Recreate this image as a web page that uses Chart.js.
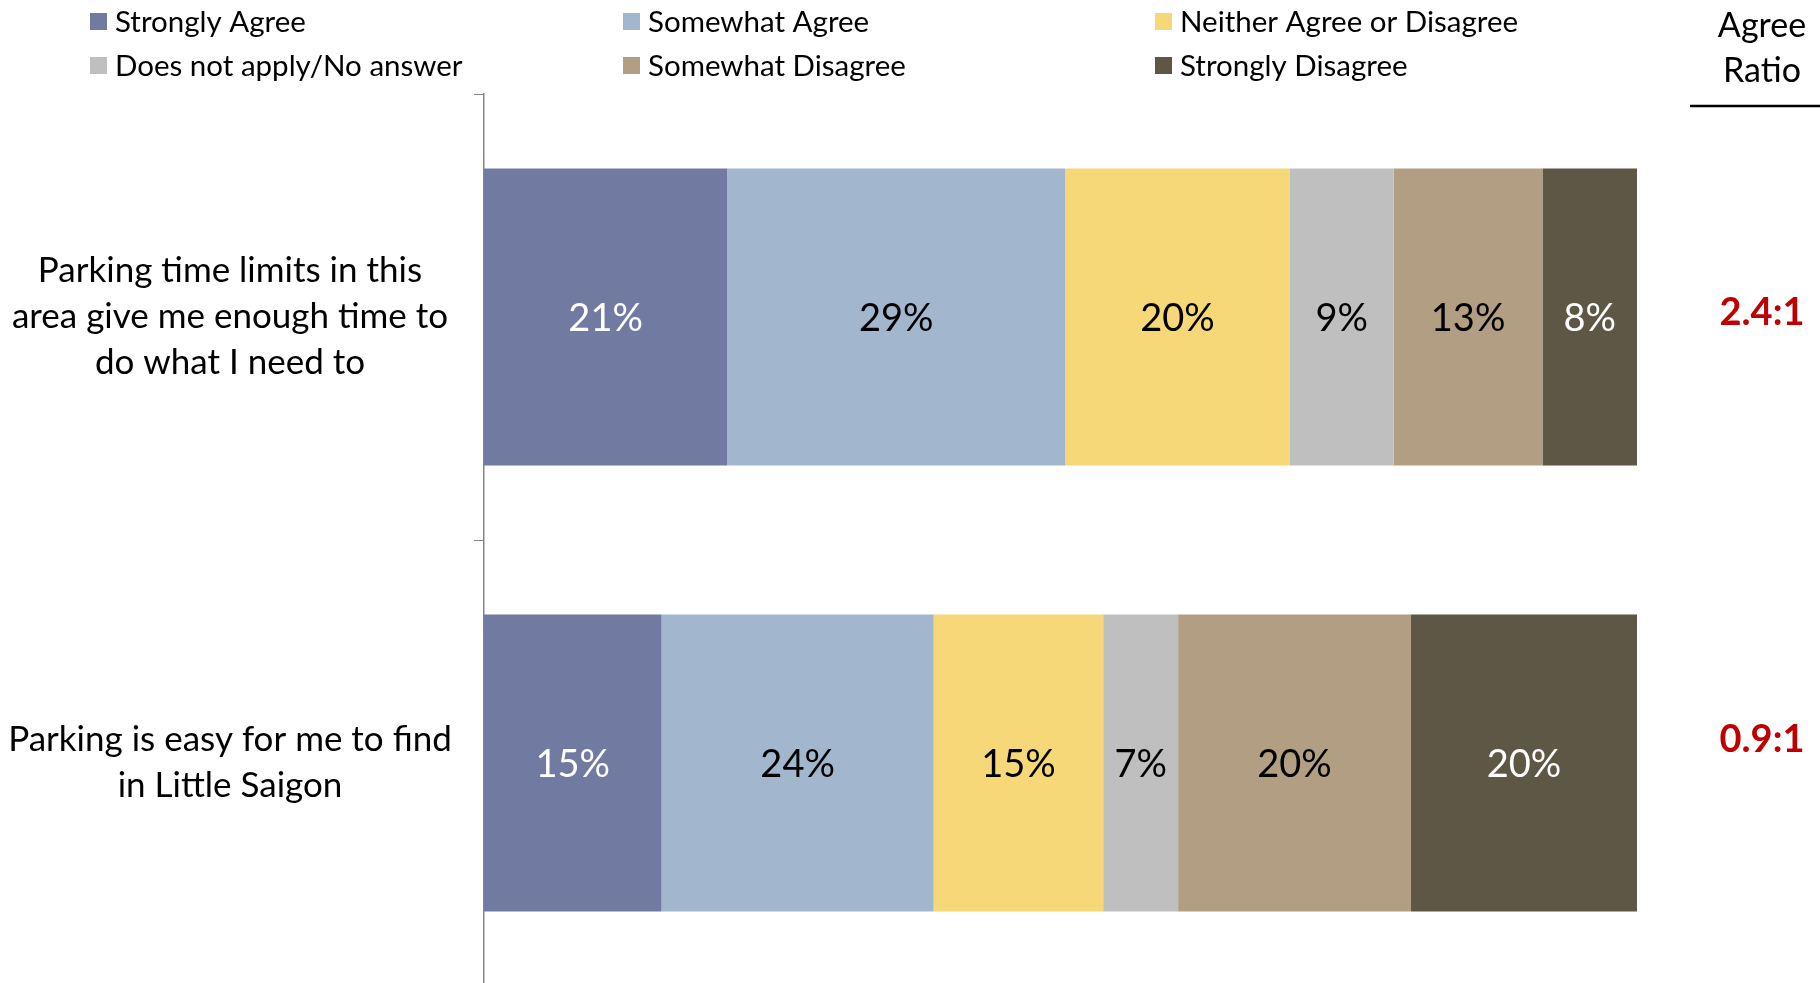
<!DOCTYPE html>
<html>
<head>
<meta charset="utf-8">
<script src="https://cdn.jsdelivr.net/npm/chart.js@4.4.0/dist/chart.umd.min.js"></script>
<style>
  body { margin: 0; background: #fff; overflow: hidden; }
</style>
</head>
<body>
<canvas id="chartBar" width="1820" height="990"></canvas>
<script>
// data
let categories = [
  ["Parking time limits in this", "area give me enough time to", "do what I need to"],
  ["Parking is easy for me to find", "in Little Saigon"],
];
let seriesNames = [
  "Strongly Agree",
  "Somewhat Agree",
  "Neither Agree or Disagree",
  "Does not apply/No answer",
  "Somewhat Disagree",
  "Strongly Disagree",
];
let stronglyAgree = [21.1, 15.4];
let somewhatAgree = [29.3, 23.6];
let neitherAgree = [19.5, 14.7];
let noAnswer = [9.0, 6.5];
let somewhatDisagree = [12.9, 20.2];
let stronglyDisagree = [8.2, 19.6];
let agreeRatio = ["2.4:1", "0.9:1"];

let colors = ["#717AA0", "#A2B7CE", "#F7D878", "#BFBFBF", "#B19E83", "#5F5745"];
let labelColors = ["#fff", "#000", "#000", "#000", "#000", "#fff"];
let fontFamily = "Lato, 'Open Sans', sans-serif";

let seriesData = [stronglyAgree, somewhatAgree, neitherAgree, noAnswer, somewhatDisagree, stronglyDisagree];

let datasets = seriesData.map((d, i) => {
  return {
    label: seriesNames[i],
    data: d,
    backgroundColor: colors[i],
    borderWidth: 0,
    categoryPercentage: 1,
    barPercentage: 0.666,
  };
});

// labels, legend and ratio column
let ratioShift = [-4, -23];
let textPlugin = {
  id: "textPlugin",
  afterDatasetsDraw(chart) {
    let ctx = chart.ctx;
    ctx.save();
    ctx.textAlign = "center";
    ctx.textBaseline = "middle";

    // values inside bars
    ctx.font = "38px " + fontFamily;
    chart.data.datasets.forEach((ds, i) => {
      let meta = chart.getDatasetMeta(i);
      meta.data.forEach((bar, j) => {
        ctx.fillStyle = labelColors[i];
        ctx.fillText(Math.round(ds.data[j]) + "%", (bar.x + bar.base) / 2, bar.y + 2);
      });
    });

    // category labels
    let yScale = chart.scales.y;
    ctx.fillStyle = "#000";
    ctx.font = "35px " + fontFamily;
    categories.forEach((lines, j) => {
      let cy = yScale.getPixelForValue(j);
      let start = cy - ((lines.length - 1) * 46) / 2;
      lines.forEach((line, k) => {
        ctx.fillText(line, 230, start + k * 46);
      });
    });

    // agree ratio
    ctx.font = "34px " + fontFamily;
    ctx.fillText("Agree", 1762, 26);
    ctx.fillText("Ratio", 1762, 71);
    ctx.strokeStyle = "#000";
    ctx.lineWidth = 2.5;
    ctx.beginPath();
    ctx.moveTo(1690, 106);
    ctx.lineTo(1820, 106);
    ctx.stroke();
    ctx.fillStyle = "#C00000";
    ctx.font = "bold 38px " + fontFamily;
    agreeRatio.forEach((r, j) => {
      ctx.fillText(r, 1762, yScale.getPixelForValue(j) + ratioShift[j]);
    });

    // legend
    let colX = [90, 623, 1155];
    let rowY = [21, 65];
    ctx.textAlign = "left";
    ctx.font = "29.5px " + fontFamily;
    seriesNames.forEach((name, i) => {
      let x = colX[i % 3];
      let y = rowY[Math.floor(i / 3)];
      ctx.fillStyle = colors[i];
      ctx.fillRect(x, y - 8, 17, 17);
      ctx.fillStyle = "#000";
      ctx.fillText(name, x + 25, y + 1);
    });
    ctx.restore();
  },
};

const configBarChart = {
  type: "bar",
  data: {
    labels: categories.map((c) => c.join(" ")),
    datasets: datasets,
  },
  options: {
    indexAxis: "y",
    responsive: false,
    animation: false,
    layout: {
      padding: { left: 474, right: 183, top: 94, bottom: 4 },
    },
    plugins: {
      legend: { display: false },
      tooltip: { enabled: false },
    },
    scales: {
      x: {
        stacked: true,
        display: false,
        min: 0,
        max: 100,
      },
      y: {
        stacked: true,
        offset: true,
        ticks: { display: false },
        grid: {
          offset: true,
          drawOnChartArea: false,
          drawTicks: true,
          tickLength: 10,
          color: "#868686",
        },
        border: { display: true, color: "#868686", width: 1.5 },
      },
    },
  },
  plugins: [textPlugin],
};

let chartBar = new Chart(document.getElementById("chartBar"), configBarChart);
</script>
</body>
</html>
